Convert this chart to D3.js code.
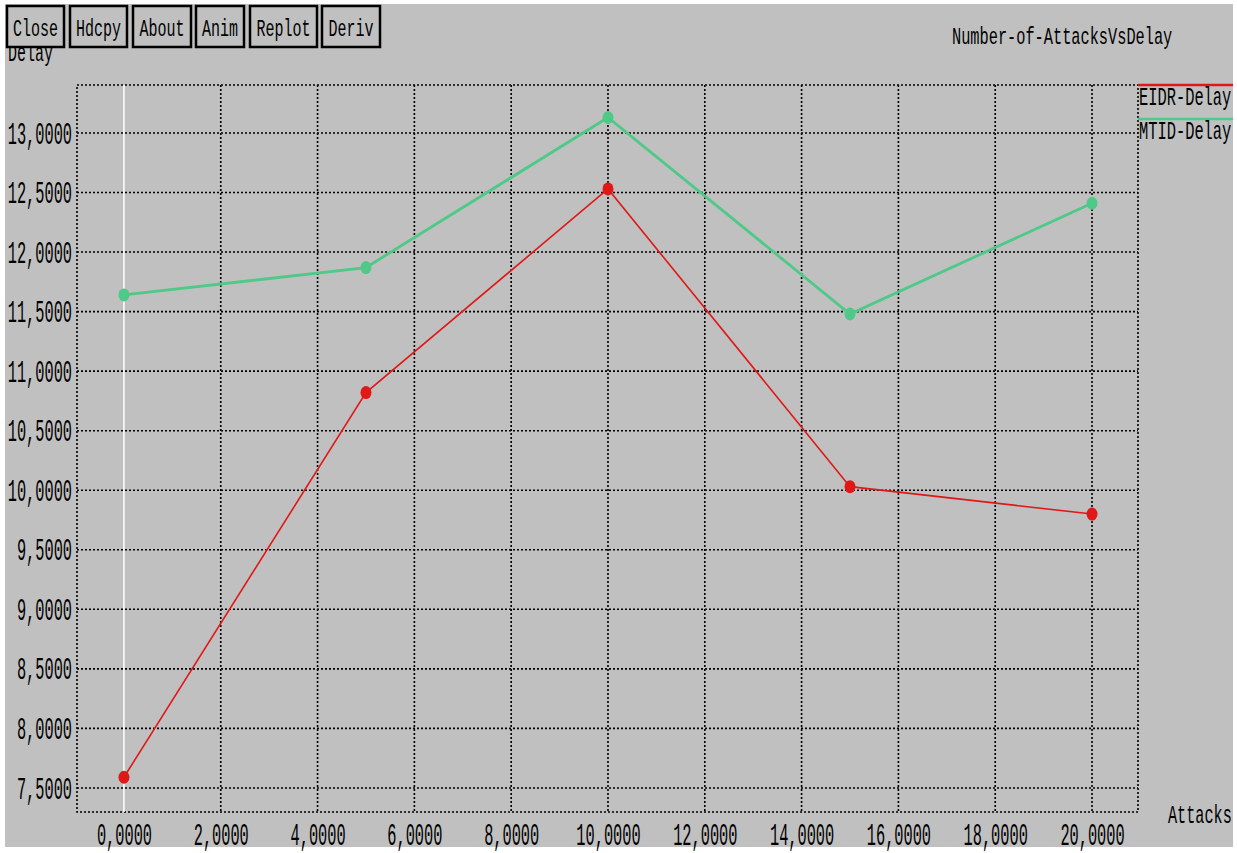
<!DOCTYPE html>
<html>
<head>
<meta charset="utf-8">
<script src="https://cdn.jsdelivr.net/npm/d3@7"></script>
<style>
  html, body { margin: 0; padding: 0; background: #ffffff; }
  svg { display: block; }
  text { font-family: "Liberation Mono", "DejaVu Sans Mono", monospace; fill: #000; }
</style>
</head>
<body>
<svg id="chart" width="1237" height="853"></svg>
<script>
// ---- data ----
const attacks = [0, 5, 10, 15, 20];
const eidrDelay = [7.59, 10.82, 12.53, 10.03, 9.80];
const mtidDelay = [11.64, 11.87, 13.13, 11.48, 12.41];
const seriesNames = ["EIDR-Delay", "MTID-Delay"];
const seriesColors = ["#e01818", "#4fc987"];
const xTicks = [0, 2, 4, 6, 8, 10, 12, 14, 16, 18, 20];
const yTicks = [7.5, 8.0, 8.5, 9.0, 9.5, 10.0, 10.5, 11.0, 11.5, 12.0, 12.5, 13.0];
const buttons = ["Close", "Hdcpy", "About", "Anim", "Replot", "Deriv"];
const title = "Number-of-AttacksVsDelay";
const xLabel = "Attacks";
const yLabel = "Delay";

const svg = d3.select("#chart");
const W = 1237, H = 853;
const plot = {left: 77, right: 1138, top: 85, bottom: 812};
const bg = "#c0c0c0";
const FS = 15.3;   // font size giving ~9.2px per character

svg.append("rect").attr("x", 0).attr("y", 0).attr("width", W).attr("height", H).attr("fill", "#fff");
svg.append("rect").attr("x", 5).attr("y", 4).attr("width", 1228).attr("height", 843).attr("fill", bg);

const x = d3.scaleLinear().domain([-0.97, 20.95]).range([plot.left, plot.right]);
const y = d3.scaleLinear().domain([7.298, 13.403]).range([plot.bottom, plot.top]);

const fmt = v => d3.format(".4f")(v).replace(".", ",");

function tallText(parent, tx, ty, str, sy, anchor, fs) {
  return parent.append("text")
    .attr("transform", `translate(${tx},${ty}) scale(1,${sy})`)
    .attr("font-size", fs || FS)
    .attr("text-anchor", anchor || "start")
    .text(str);
}

// grid
const grid = svg.append("g").attr("stroke", "#000").attr("stroke-width", 1.6).attr("stroke-dasharray", "2,2");
yTicks.forEach(t => {
  grid.append("line").attr("x1", plot.left).attr("x2", plot.right).attr("y1", y(t)).attr("y2", y(t));
});
xTicks.filter(t => t !== 0).forEach(t => {
  grid.append("line").attr("y1", plot.top).attr("y2", plot.bottom).attr("x1", x(t)).attr("x2", x(t));
});
grid.append("rect").attr("x", plot.left).attr("y", plot.top)
  .attr("width", plot.right - plot.left).attr("height", plot.bottom - plot.top).attr("fill", "none");

// zero axis (white)
svg.append("line").attr("x1", x(0)).attr("x2", x(0)).attr("y1", plot.top).attr("y2", plot.bottom)
  .attr("stroke", "#ffffff").attr("stroke-width", 1.5);

// y axis labels
const yAxis = d3.axisLeft(y).tickValues(yTicks).tickSize(0).tickPadding(0).tickFormat(fmt);
const yg = svg.append("g").attr("transform", `translate(${plot.left - 5},0)`).call(yAxis);
yg.select(".domain").remove();
yg.selectAll("text").attr("font-size", FS).attr("font-family", "Liberation Mono")
  .attr("x", 0).attr("dy", "0.33em").attr("transform", "scale(1,2)");

// x axis labels
const xAxis = d3.axisBottom(x).tickValues(xTicks).tickSize(0).tickPadding(0).tickFormat(fmt);
const xg = svg.append("g").attr("transform", `translate(0,${plot.bottom})`).call(xAxis);
xg.select(".domain").remove();
xg.selectAll("text").attr("font-size", FS).attr("font-family", "Liberation Mono")
  .attr("y", 0).attr("dy", 0).attr("transform", "translate(0,33) scale(1,2)");

// series
const series = [eidrDelay, mtidDelay];
const widths = [1.6, 2.8];
series.forEach((vals, i) => {
  const pts = attacks.map((a, j) => [a, vals[j]]);
  const line = d3.line().x(d => x(d[0])).y(d => y(d[1]));
  svg.append("path").datum(pts).attr("d", line).attr("fill", "none")
    .attr("stroke", seriesColors[i]).attr("stroke-width", widths[i]);
  svg.selectAll(null).data(pts).enter().append("ellipse")
    .attr("cx", d => x(d[0])).attr("cy", d => y(d[1]))
    .attr("rx", 5.5).attr("ry", 6.5).attr("fill", seriesColors[i]);
});

// legend
seriesNames.forEach((name, i) => {
  const ly = plot.top + i * 34;
  svg.append("line").attr("x1", plot.right).attr("x2", 1233).attr("y1", ly).attr("y2", ly)
    .attr("stroke", seriesColors[i]).attr("stroke-width", 2.5);
  tallText(svg, plot.right + 1, ly + 20, name, 1.68, "start", 15.4);
});

// title
tallText(svg, 952, 44, title, 1.6, "start", 15.3);

// axis titles
tallText(svg, 1168, 823, xLabel, 1.7, "start", 15.2);
tallText(svg, 8, 61, yLabel, 1.75, "start", 15.0);

// buttons
const btnX = [7, 70, 133, 196, 250, 322];
const btnW = [57, 57, 58, 48, 67, 58];
buttons.forEach((b, i) => {
  svg.append("rect").attr("x", btnX[i]).attr("y", 6).attr("width", btnW[i]).attr("height", 41)
    .attr("fill", bg).attr("stroke", "#000").attr("stroke-width", 2.5);
  tallText(svg, btnX[i] + btnW[i] / 2, 36, b, 1.62, "middle", 15.0);
});
</script>
</body>
</html>
